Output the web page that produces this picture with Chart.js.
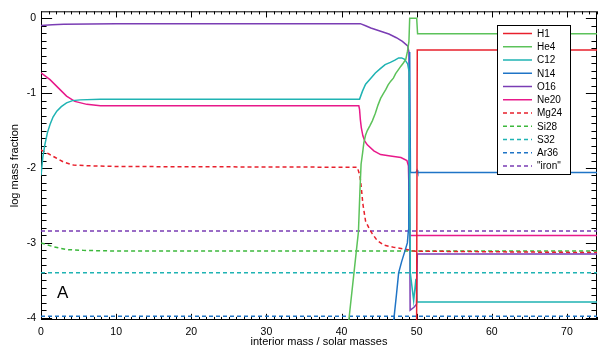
<!DOCTYPE html>
<html>
<head>
<meta charset="utf-8">
<script src="https://cdn.jsdelivr.net/npm/chart.js@4.4.1/dist/chart.umd.min.js"></script>
<style>
  html, body { margin: 0; padding: 0; background: #fff; }
  canvas { display: block; }
</style>
</head>
<body>
<canvas id="abund" width="598" height="352"></canvas>
<script>
// Tick labels
const xTickValues = [0, 10, 20, 30, 40, 50, 60, 70];
const yTickValues = [0, -1, -2, -3, -4];

// Species abundance profiles: interior mass (Msun) and log mass fraction
const h1Mass = [49.98, 50.08, 74];
const h1Log  = [-4.6, -0.425, -0.425];

const he4Mass = [40.6, 40.95, 41.6, 42.25, 42.45, 42.6, 42.8, 42.97, 43.2, 43.43, 43.8, 44.1, 44.5, 44.85, 45.2, 45.6, 45.9, 46.2, 46.55, 46.9, 47.2, 47.55, 47.9, 48.2, 48.55, 48.78, 48.97, 49.07, 50.0, 50.12, 74];
const he4Log  = [-4.4, -4.05, -3.45, -2.85, -2.3, -1.95, -1.8, -1.66, -1.56, -1.5, -1.43, -1.37, -1.27, -1.16, -1.07, -1.0, -0.95, -0.89, -0.84, -0.8, -0.74, -0.69, -0.64, -0.6, -0.55, -0.44, -0.31, 0.0, 0.0, -0.206, -0.206];

const c12Mass = [0, 0.25, 0.53, 0.85, 1.2, 1.6, 2.1, 2.7, 3.4, 4.2, 5.2, 7.9, 42.4, 42.8, 43.2, 43.9, 44.5, 45.2, 45.8, 46.5, 47.1, 47.6, 48.0, 48.4, 48.8, 49.0, 49.15, 49.6, 49.9, 50.05, 74];
const c12Log  = [-2.1, -1.85, -1.68, -1.53, -1.42, -1.32, -1.24, -1.18, -1.13, -1.1, -1.09, -1.08, -1.08, -0.97, -0.88, -0.8, -0.73, -0.67, -0.62, -0.59, -0.56, -0.53, -0.53, -0.55, -0.61, -0.72, -3.4, -3.77, -3.48, -3.79, -3.79];

const n14Mass = [46.6, 46.95, 47.3, 47.6, 48.0, 48.4, 48.76, 48.9, 48.95, 49.07, 49.17, 49.9, 50.05, 50.15, 74];
const n14Log  = [-4.4, -4.03, -3.7, -3.4, -3.25, -3.12, -3.0, -2.83, -2.6, -0.45, -2.06, -2.06, -2.03, -2.06, -2.06];

const o16Mass = [0, 1.5, 3, 10, 42.5, 43.2, 43.9, 45.1, 46.3, 47.3, 48.1, 48.8, 48.97, 49.13, 49.64, 49.98, 50.09, 74];
const o16Log  = [-0.095, -0.088, -0.08, -0.072, -0.072, -0.1, -0.13, -0.17, -0.21, -0.26, -0.31, -0.37, -0.45, -3.9, -3.86, -3.82, -3.15, -3.15];

const ne20Mass = [0, 1.2, 2.3, 3.4, 4.5, 6.1, 7.9, 42.3, 42.4, 42.5, 42.63, 42.84, 43.1, 43.43, 44.3, 45.2, 46.5, 47.9, 48.7, 48.9, 49.1, 74];
const ne20Log  = [-0.73, -0.82, -0.93, -1.04, -1.11, -1.15, -1.17, -1.17, -1.22, -1.35, -1.46, -1.57, -1.64, -1.69, -1.77, -1.82, -1.84, -1.86, -1.9, -1.97, -2.9, -2.9];

const mg24Mass = [0, 1.0, 1.9, 3.0, 4.3, 6.1, 10.5, 42.1, 42.44, 42.63, 42.84, 43.2, 43.64, 44.1, 44.76, 45.64, 46.97, 48.3, 49.64, 74];
const mg24Log  = [-1.76, -1.81, -1.86, -1.92, -1.96, -1.97, -1.98, -1.99, -2.1, -2.26, -2.48, -2.71, -2.8, -2.88, -2.97, -3.03, -3.06, -3.08, -3.11, -3.13];

const si28Mass = [0, 1.6, 3.4, 5.6, 10.5, 74];
const si28Log  = [-3.0, -3.05, -3.09, -3.1, -3.11, -3.11];

const s32Mass = [0, 74];
const s32Log  = [-3.4, -3.4];

const ar36Mass = [0, 74];
const ar36Log  = [-3.98, -3.98];

const ironMass = [0, 74];
const ironLog  = [-2.84, -2.84];

const RED = '#e8202c', GREEN = '#5cc25a', TEAL = '#1fb3b3', BLUE = '#1f74c6', PURPLE = '#7a3db4', MAGENTA = '#e8198a';
const DASH = [4, 3];

function pts(xs, ys) { return xs.map((v, i) => ({ x: v, y: ys[i] })); }
function line(label, xs, ys, color, dash) {
  return {
    label, data: pts(xs, ys), borderColor: color, backgroundColor: color,
    borderWidth: 1.5, borderDash: dash || [], pointRadius: 0, tension: 0, fill: false
  };
}

const datasets = [
  line('H1', h1Mass, h1Log, RED),
  line('He4', he4Mass, he4Log, GREEN),
  line('C12', c12Mass, c12Log, TEAL),
  line('N14', n14Mass, n14Log, BLUE),
  line('O16', o16Mass, o16Log, PURPLE),
  line('Ne20', ne20Mass, ne20Log, MAGENTA),
  line('Mg24', mg24Mass, mg24Log, RED, DASH),
  line('Si28', si28Mass, si28Log, '#3db83d', DASH),
  line('S32', s32Mass, s32Log, TEAL, DASH),
  line('Ar36', ar36Mass, ar36Log, BLUE, DASH),
  line('"iron"', ironMass, ironLog, PURPLE, DASH)
];

const FONT = '"Liberation Sans", Arial, Helvetica, sans-serif';

// Frame with inward-pointing major/minor ticks on all four sides
const framePlugin = {
  id: 'frameTicks',
  beforeDatasetsDraw(chart) {
    const { ctx, chartArea: a, scales: { x, y } } = chart;
    const yLen = 0.02 * (a.right - a.left);
    const xLen = 0.02 * (a.bottom - a.top);
    ctx.save();
    ctx.strokeStyle = '#000';
    ctx.lineWidth = 1;
    ctx.strokeRect(a.left + 0.5, a.top + 0.5, a.right - a.left - 1, a.bottom - a.top - 1);
    ctx.beginPath();
    for (let v = Math.ceil(x.min); v <= x.max; v++) {
      const px = Math.round(x.getPixelForValue(v)) + 0.5;
      const len = v % 10 === 0 ? xLen : xLen / 2;
      ctx.moveTo(px, a.bottom); ctx.lineTo(px, a.bottom - len);
      ctx.moveTo(px, a.top); ctx.lineTo(px, a.top + len);
    }
    for (let i = 0; i <= 40; i++) {
      const v = -i / 10;
      if (v < y.min) continue;
      const py = Math.round(y.getPixelForValue(v)) + 0.5;
      const len = i % 10 === 0 ? yLen : yLen / 2;
      ctx.moveTo(a.left, py); ctx.lineTo(a.left + len, py);
      ctx.moveTo(a.right, py); ctx.lineTo(a.right - len, py);
    }
    ctx.stroke();
    ctx.restore();
  },
  afterDatasetsDraw(chart) {
    const { ctx, scales: { x, y } } = chart;
    ctx.save();
    // boxed key
    const bx = 497, by = 25, bw = 73, bh = 149, row = 13.25;
    ctx.fillStyle = '#fff';
    ctx.fillRect(bx, by, bw, bh);
    ctx.strokeStyle = '#000';
    ctx.lineWidth = 1;
    ctx.strokeRect(bx + 0.5, by + 0.5, bw, bh);
    ctx.font = '10px ' + FONT;
    ctx.textBaseline = 'middle';
    ctx.textAlign = 'left';
    chart.data.datasets.forEach((ds, i) => {
      const cy = by + 8.5 + i * row;
      ctx.beginPath();
      ctx.strokeStyle = ds.borderColor;
      ctx.lineWidth = ds.borderWidth;
      ctx.setLineDash(ds.borderDash);
      ctx.moveTo(bx + 6, cy); ctx.lineTo(bx + 35, cy);
      ctx.stroke();
      ctx.setLineDash([]);
      ctx.fillStyle = '#000';
      ctx.fillText(ds.label, bx + 40, cy + 0.5);
    });
    // panel letter
    ctx.font = '17px ' + FONT;
    ctx.fillStyle = '#000';
    ctx.textAlign = 'center';
    ctx.fillText('A', x.getPixelForValue(2.9), y.getPixelForValue(-3.68));
    ctx.restore();
  }
};

new Chart(document.getElementById('abund'), {
  type: 'line',
  data: { datasets },
  options: {
    responsive: false,
    animation: false,
    devicePixelRatio: 1,
    layout: { padding: { top: 10, right: 1, left: 0, bottom: 0 } },
    plugins: { legend: { display: false }, tooltip: { enabled: false } },
    scales: {
      x: {
        type: 'linear', min: 0, max: 74,
        grid: { display: false, drawTicks: false },
        border: { display: false },
        afterFit(s) { s.height = 32; },
        afterBuildTicks(s) { s.ticks = xTickValues.map(v => ({ value: v })); },
        ticks: { color: '#000', padding: 6, maxRotation: 0, autoSkip: false, font: { family: FONT, size: 10.5 } },
        title: { display: true, text: 'interior mass / solar masses', color: '#000', padding: { top: 0, bottom: 3 }, font: { family: FONT, size: 11 } }
      },
      y: {
        type: 'linear', min: -4.03, max: 0.093,
        grid: { display: false, drawTicks: false },
        border: { display: false },
        afterFit(s) { s.width = 41; },
        afterBuildTicks(s) { s.ticks = yTickValues.map(v => ({ value: v })); },
        ticks: { color: '#000', padding: 5, autoSkip: false, font: { family: FONT, size: 10.5 } },
        title: { display: true, text: 'log mass fraction', color: '#000', padding: { top: 8, bottom: 0 }, font: { family: FONT, size: 11 } }
      }
    }
  },
  plugins: [framePlugin]
});
</script>
</body>
</html>
